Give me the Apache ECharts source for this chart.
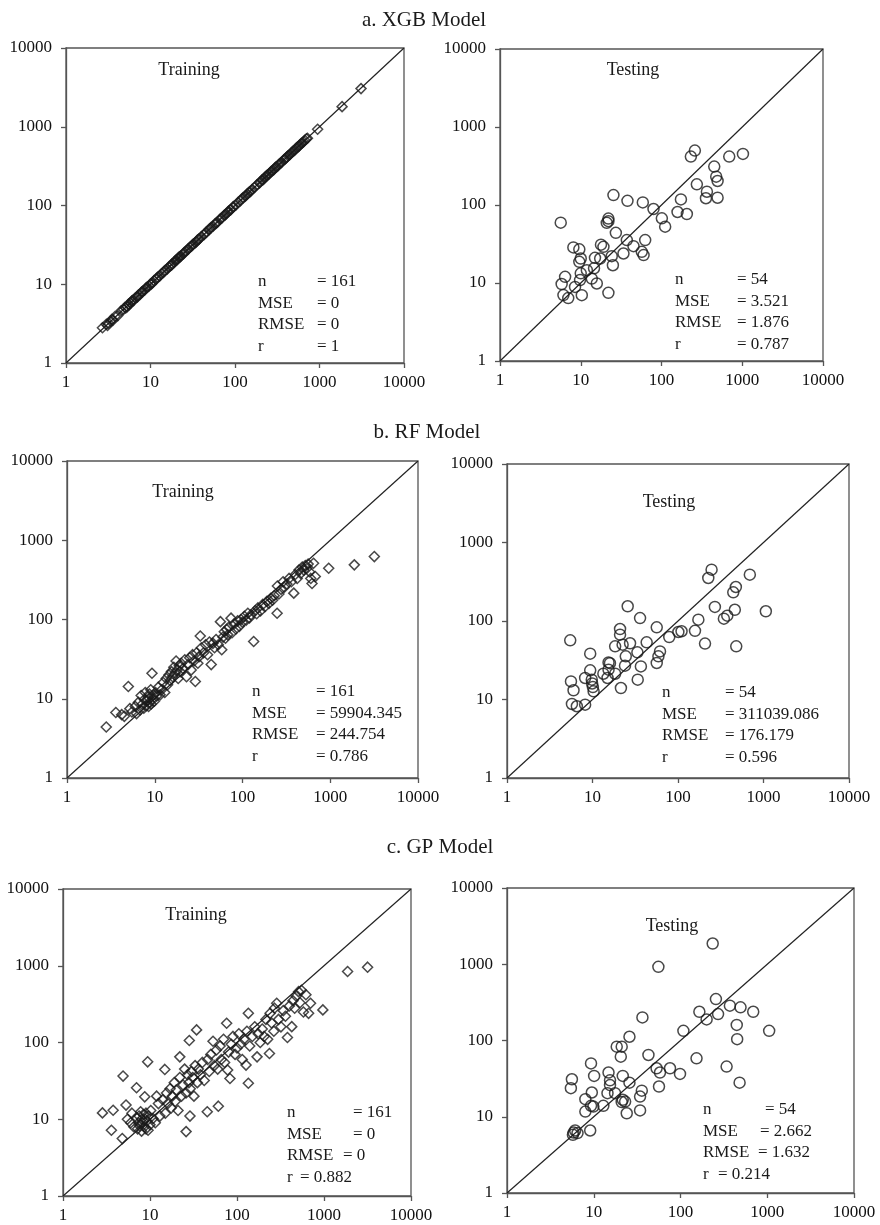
<!DOCTYPE html>
<html>
<head>
<meta charset="utf-8">
<script src="https://cdn.jsdelivr.net/npm/echarts@6/dist/echarts.min.js"></script>
<style>
html,body{margin:0;padding:0;background:#fff;}
#chart{width:880px;height:1225px;}
</style>
</head>
<body>
<div id="chart"></div>
<script>
// ---------- DATA ----------
const tickLabels = ['1', '10', '100', '1000', '10000'];
const panelTitles = ['a. XGB Model', 'b. RF Model', 'c. GP Model'];
const statLabels = ['n', 'MSE', 'RMSE', 'r'];

const xgbTrainStats = ['= 161', '= 0', '= 0', '= 1'];
const xgbTestStats = ['= 54', '= 3.521', '= 1.876', '= 0.787'];
const rfTrainStats = ['= 161', '= 59904.345', '= 244.754', '= 0.786'];
const rfTestStats = ['= 54', '= 311039.086', '= 176.179', '= 0.596'];
const gpTrainStats = ['= 161', '= 0', '= 0', '= 0.882'];
const gpTestStats = ['= 54', '= 2.662', '= 1.632', '= 0.214'];

const xgbTrain = [
[2.7,2.8],[3.0,3.1],[3.2,3.2],[3.4,3.4],[3.6,3.5],[3.8,3.9],[4.1,4.0],[4.5,4.6],[4.8,4.8],[5.0,5.1],
[5.3,5.2],[5.5,5.6],[5.8,5.8],[6.0,6.1],[6.3,6.2],[6.6,6.7],[6.9,6.9],[7.2,7.3],[7.5,7.4],[7.8,7.9],
[8.1,8.1],[8.5,8.4],[8.8,8.9],[9.2,9.2],[9.6,9.5],[10,10.1],[10.5,10.4],[11,11.1],[11.6,11.5],[12.2,12.3],
[12.8,12.7],[13.5,13.6],[14.2,14.1],[15,15.1],[15.8,15.7],[16.5,16.6],[17.3,17.2],[18,18.2],[19,18.9],[20,20.2],
[21,21],[22,22.3],[23,23],[24.5,24.3],[26,26.2],[27.5,27.4],[29,29.3],[30.5,30.4],[32,32.3],[34,33.8],
[36,36.3],[38,37.8],[40,40.4],[43,42.7],[46,46.3],[49,48.8],[52,52.4],[55,54.7],[58,58.5],[62,61.6],
[66,66.5],[70,69.7],[74,74.6],[79,78.5],[84,84.7],[90,89.4],[96,96.8],[102,101],[109,110],[116,115],
[124,125],[132,131],[140,141],[150,149],[160,161],[170,169],[182,183],[195,194],[208,210],[222,221],
[236,238],[250,249],[265,267],[280,279],[298,300],[315,313],[335,337],[355,353],[378,380],[400,398],
[425,428],[450,448],[480,483],[510,508],[540,543],[575,572],[610,614],[650,647],[700,705],[950,930],
[1850,1800],[3100,3050],
[3.1,3.0],[3.5,3.6],[5.1,5.0],[5.6,5.5],[6.1,6.2],[7.0,6.9],[8.0,8.1],[9.0,9.1],[10.2,10.0],[11.8,11.9],
[14.5,14.6],[17.8,17.6],[19.5,19.7],[20.5,20.3],[21.5,21.8],[22.5,22.4],[25,25.2],[28,28.1],[31,31.3],[35,34.8],
[37,37.2],[45,44.7],[50,50.5],[60,59.7],[68,68.3],[76,75.6],[82,82.5],[88,87.6],[94,94.5],[120,121],
[136,135],[145,146],[155,154],[200,201],[215,213],[228,230],[240,242],[255,254],[270,272],[290,288],
[305,308],[325,323],[345,347],[390,388],[410,412],[440,437],[465,468],[495,492],[525,528],[560,557],
[590,594],[630,626],[670,675],[720,715]
];
const xgbTest = [
[5.65,59.3],[25.4,134],[37.9,113],[58.7,108],[79.6,88.9],[101,67.4],[111,52.7],[158,81.3],[174,118],[206,76.6],
[231,418],[259,499],[274,184],[365,148],[355,122],[450,311],[476,231],[495,203],[495,124],[690,418],
[1020,452],[22,62],[22,67],[21,59],[27.2,44],[37.2,35.5],[45,29.7],[62.8,35.5],[57,25.1],[60,22.8],
[33.8,23.9],[24.2,22.1],[25,16.9],[22,7.48],[19.1,29.1],[17.8,31],[17.4,20.6],[15,21],[14.6,15.4],[15.8,9.86],
[13.7,11.4],[8.1,28.6],[9.6,27],[9.6,18.7],[10,20.6],[10,13.3],[9.8,10.9],[10.3,6.98],[8.5,8.9],[6.4,12],
[5.8,9.7],[6.1,7],[7,6.4],[11.9,14.6]
];
const rfTrain = [
[2.8,4.4],[3.6,6.7],[4.2,6.3],[5.0,14.3],[4.5,6.0],[5.2,7.5],[5.5,6.8],[6.0,8.0],[6.2,6.5],[6.5,9.0],
[6.8,7.2],[7.0,11],[7.2,8.5],[7.5,7.6],[7.6,9.8],[7.8,12],[8.0,8.2],[8.2,9.5],[8.4,10.5],[8.5,8.0],
[8.7,11.5],[8.8,9.0],[9.0,13],[9.1,8.6],[9.3,21],[9.5,10],[9.7,11.2],[9.9,9.3],[10.2,12],[10.5,10.8],
[11,14],[11.5,11.2],[12,13],[12.5,16],[13,12],[13.5,18],[14,15],[14.5,20],[15,17],[15.5,22],
[16,19],[16.5,25],[17,21],[17.5,30],[18,23],[18.5,18],[19,26],[19.5,22],[20,28],[21,24],
[22,31],[23,19],[24,27],[25,33],[26,23],[27,36],[28,30],[29,16.5],[30,38],[31,28],
[32,34],[33,62],[34,44],[36,38],[38,48],[40,36],[42,52],[44,27],[46,50],[48,44],
[50,56],[53,48],[56,94],[58,41.5],[60,60],[62,70],[64,58],[66,75],[68,64],[70,80],
[74,104],[76,68],[80,88],[84,76],[88,96],[92,82],[96,100],[100,92],[105,110],[110,98],
[115,120],[120,105],[125,115],[134,52.8],[140,130],[145,118],[150,140],[160,128],[170,155],[180,145],
[190,170],[200,160],[210,185],[220,175],[230,200],[248,120],[250,265],[260,210],[275,240],[290,300],
[300,255],[320,280],[340,330],[360,300],[384,215],[400,370],[420,330],[440,420],[460,380],[480,460],
[500,420],[520,480],[540,440],[560,500],[580,400],[600,330],[620,285],[645,513],[675,348],[960,444],
[1880,489],[3180,622]
];
const rfTest = [
[5.49,56.7],[5.6,17],[6.0,13.1],[5.75,8.77],[6.56,8.2],[8.2,8.6],[8.2,18.8],[9.4,38.4],[9.4,23.5],[9.8,17.9],
[10.1,14.4],[10.3,12.7],[9.9,16],[13.4,21.3],[15.4,29.7],[16,29],[15.4,24],[15,18.8],[18.4,21.3],[18.4,47.6],
[21,79],[21,67],[22.5,50],[27.5,52],[24.5,35.5],[24,27],[21.5,14],[25.8,154],[33.5,39.9],[36,109],
[36.8,26.4],[33.8,17.9],[43,53.5],[56.4,83],[61.6,41],[59,35.5],[56.4,29.2],[79,62.5],[101,72.4],[110,74],
[158,75],[173,104],[207,51.5],[226,353],[247,451],[270,151],[344,107],[377,117],[443,232],[475,271],
[462,139],[480,47.6],[692,389],[1065,133]
];
const gpTrain = [
[2.84,12.1],[3.77,13.1],[3.6,7.2],[4.9,36.5],[4.8,5.6],[5.3,15.3],[5.5,10],[6,9],[6.2,12],[6.5,8],
[7,25.7],[7,10.5],[7.2,7.5],[7.4,9],[7.5,11],[7.6,8.2],[7.8,12.5],[8,7],[8,10],[8.2,9],
[8.4,11.5],[8.6,8],[8.7,19.6],[8.8,10],[9,12],[9,7.5],[9.2,9.5],[9.4,56],[9.5,7.2],[9.6,11],
[10,8.5],[10.2,13],[10.8,10.2],[11.5,9],[11.9,20],[12.5,16],[13,11],[14,18],[14.8,44.6],[15,12],
[15.5,22],[16,16],[17,25],[17.5,14],[18,20],[19,30],[19.5,17],[20,24],[21,13],[22,65],
[22,35],[23,20],[24,28],[25,45],[26,6.9],[26,22],[27,38],[28,30],[28.3,106],[28.8,11],
[29,25],[30,42],[31,35],[32,20],[33,50],[34.3,146],[35,30],[36,45],[38,38],[40,55],
[42,32],[45.5,12.5],[46,60],[48,42],[50,70],[53,104],[55,50],[58,80],[60,45],[61,14.8],
[64,90],[66,60],[70,110],[72,55],[76,178],[78,43.7],[80,75],[83,34],[86,95],[90,120],
[95,70],[100,85],[105,130],[110,95],[115,60],[120,110],[127,50.8],[130,140],[135,240],[135,29.4],
[140,90],[150,120],[160,160],[170,65],[175,130],[185,100],[195,150],[205,120],[215,200],[225,110],
[236,72],[240,240],[250,180],[265,140],[270,280],[286,325],[300,200],[320,160],[340,260],[360,220],
[380,116],[400,300],[426,161],[440,350],[460,280],[480,400],[510,460],[530,330],[550,480],[580,250],
[620,420],[665,240],[700,325],[970,266],[1866,841],[3170,958]
];
const gpTest = [
[5.6,31],[5.45,23.7],[5.85,6.2],[6.1,6.6],[6.5,6.1],[5.75,5.8],[8,17],[8,11.7],[9.3,50],[10.1,34.3],
[9.5,20.8],[9.1,6.6],[9.3,13.9],[9.9,13.6],[12.9,13.9],[14.8,38],[15.4,30],[15.4,26],[14.4,20.4],[17.6,20.4],
[18.4,83],[21,83],[20.5,61.4],[21.6,34.3],[21.6,16.7],[21,15.6],[23,15.8],[24,11.1],[25.8,112],[25.8,28],
[34.2,12.1],[34.2,18.4],[35.8,22],[36.4,201],[42.7,64.6],[55.6,925],[53,43.2],[58,38],[56.5,24.9],[75.7,43.2],
[98.7,36.5],[108,134],[153,58.4],[165,238],[200,189],[235,1870],[256,349],[271,222],[340,45.5],[371,286],
[492,272],[445,160],[450,104],[480,28],[689,238],[1052,134]
];
const diagonal = [[1, 1], [10000, 10000]];

// ---------- LAYOUT ----------
const panels = [
  {grid:{left:66, top:48, width:338, height:315}, data:xgbTrain, sym:'diamond', name:'Training', stats:xgbTrainStats,
   nameXY:[189, 70], labX:258, valX:[317,317,317,317], rowY:282},
  {grid:{left:500, top:49, width:323, height:312}, data:xgbTest, sym:'circle', name:'Testing', stats:xgbTestStats,
   nameXY:[633, 70], labX:675, valX:[737,737,737,737], rowY:280},
  {grid:{left:67, top:461, width:351, height:317}, data:rfTrain, sym:'diamond', name:'Training', stats:rfTrainStats,
   nameXY:[183, 492], labX:252, valX:[316,316,316,316], rowY:692},
  {grid:{left:507, top:464, width:342, height:314}, data:rfTest, sym:'circle', name:'Testing', stats:rfTestStats,
   nameXY:[669, 502], labX:662, valX:[725,725,725,725], rowY:693},
  {grid:{left:63, top:889, width:348, height:307}, data:gpTrain, sym:'diamond', name:'Training', stats:gpTrainStats,
   nameXY:[196, 915], labX:287, valX:[353,353,343,300], rowY:1113},
  {grid:{left:507, top:888, width:347, height:305}, data:gpTest, sym:'circle', name:'Testing', stats:gpTestStats,
   nameXY:[672, 926], labX:703, valX:[765,760,758,718], rowY:1110}
];
const titleY = [20, 432, 847];
const titleX = [424, 427, 440];

const FONT = '"Liberation Serif","Times New Roman",serif';
const fmt = v => { const i = Math.round(Math.log10(v)); return tickLabels[i] !== undefined ? tickLabels[i] : ''; };

function axis(idx, isX) {
  return {
    type: 'log', logBase: 10, min: 1, max: 10000, interval: 1,
    gridIndex: idx,
    axisLine: {show: true, onZero: false, lineStyle: {color: '#555', width: 1.3}},
    axisTick: {show: true, inside: false, length: 5, lineStyle: {color: '#555', width: 1.3}},
    minorTick: {show: false},
    splitLine: {show: false},
    axisLabel: {show: true, formatter: fmt, color: '#111', fontFamily: FONT, fontSize: 17, margin: isX ? 11 : 14}
  };
}

const grids = [], xAxes = [], yAxes = [], series = [], graphics = [];
panels.forEach((p, i) => {
  grids.push(Object.assign({show: true, borderColor: '#555', borderWidth: 1.3, backgroundColor: '#fff'}, p.grid));
  xAxes.push(axis(i, true));
  yAxes.push(axis(i, false));
  series.push({
    type: 'line', xAxisIndex: i, yAxisIndex: i, data: diagonal, showSymbol: false, symbol: 'none',
    lineStyle: {color: '#222', width: 1.2}, silent: true, z: 1
  });
  series.push({
    type: 'scatter', xAxisIndex: i, yAxisIndex: i, data: p.data, symbol: p.sym,
    symbolSize: p.sym === 'diamond' ? 10 : 11,
    itemStyle: {color: 'rgba(0,0,0,0)', borderColor: '#1a1a1a', borderWidth: 1.5}, z: 2
  });
  graphics.push({type: 'text', x: p.nameXY[0], y: p.nameXY[1], z: 10,
    style: {text: p.name, font: '18px ' + FONT, fill: '#1a1a1a', align: 'center', verticalAlign: 'middle'}});
  statLabels.forEach((lab, k) => {
    const y = p.rowY + k * 21.5;
    graphics.push({type: 'text', x: p.labX, y: y, z: 10,
      style: {text: lab, font: '17px ' + FONT, fill: '#1a1a1a', align: 'left', verticalAlign: 'middle'}});
    graphics.push({type: 'text', x: p.valX[k], y: y, z: 10,
      style: {text: p.stats[k], font: '17px ' + FONT, fill: '#1a1a1a', align: 'left', verticalAlign: 'middle'}});
  });
});
panelTitles.forEach((t, k) => {
  graphics.push({type: 'text', x: titleX[k], y: titleY[k], z: 10,
    style: {text: t, font: '21px ' + FONT, fill: '#1a1a1a', align: 'center', verticalAlign: 'middle'}});
});

const chart = echarts.init(document.getElementById('chart'), null, {renderer: 'canvas'});
chart.setOption({
  backgroundColor: '#fff',
  animation: false,
  grid: grids,
  xAxis: xAxes,
  yAxis: yAxes,
  series: series,
  graphic: graphics
});
</script>
</body>
</html>
